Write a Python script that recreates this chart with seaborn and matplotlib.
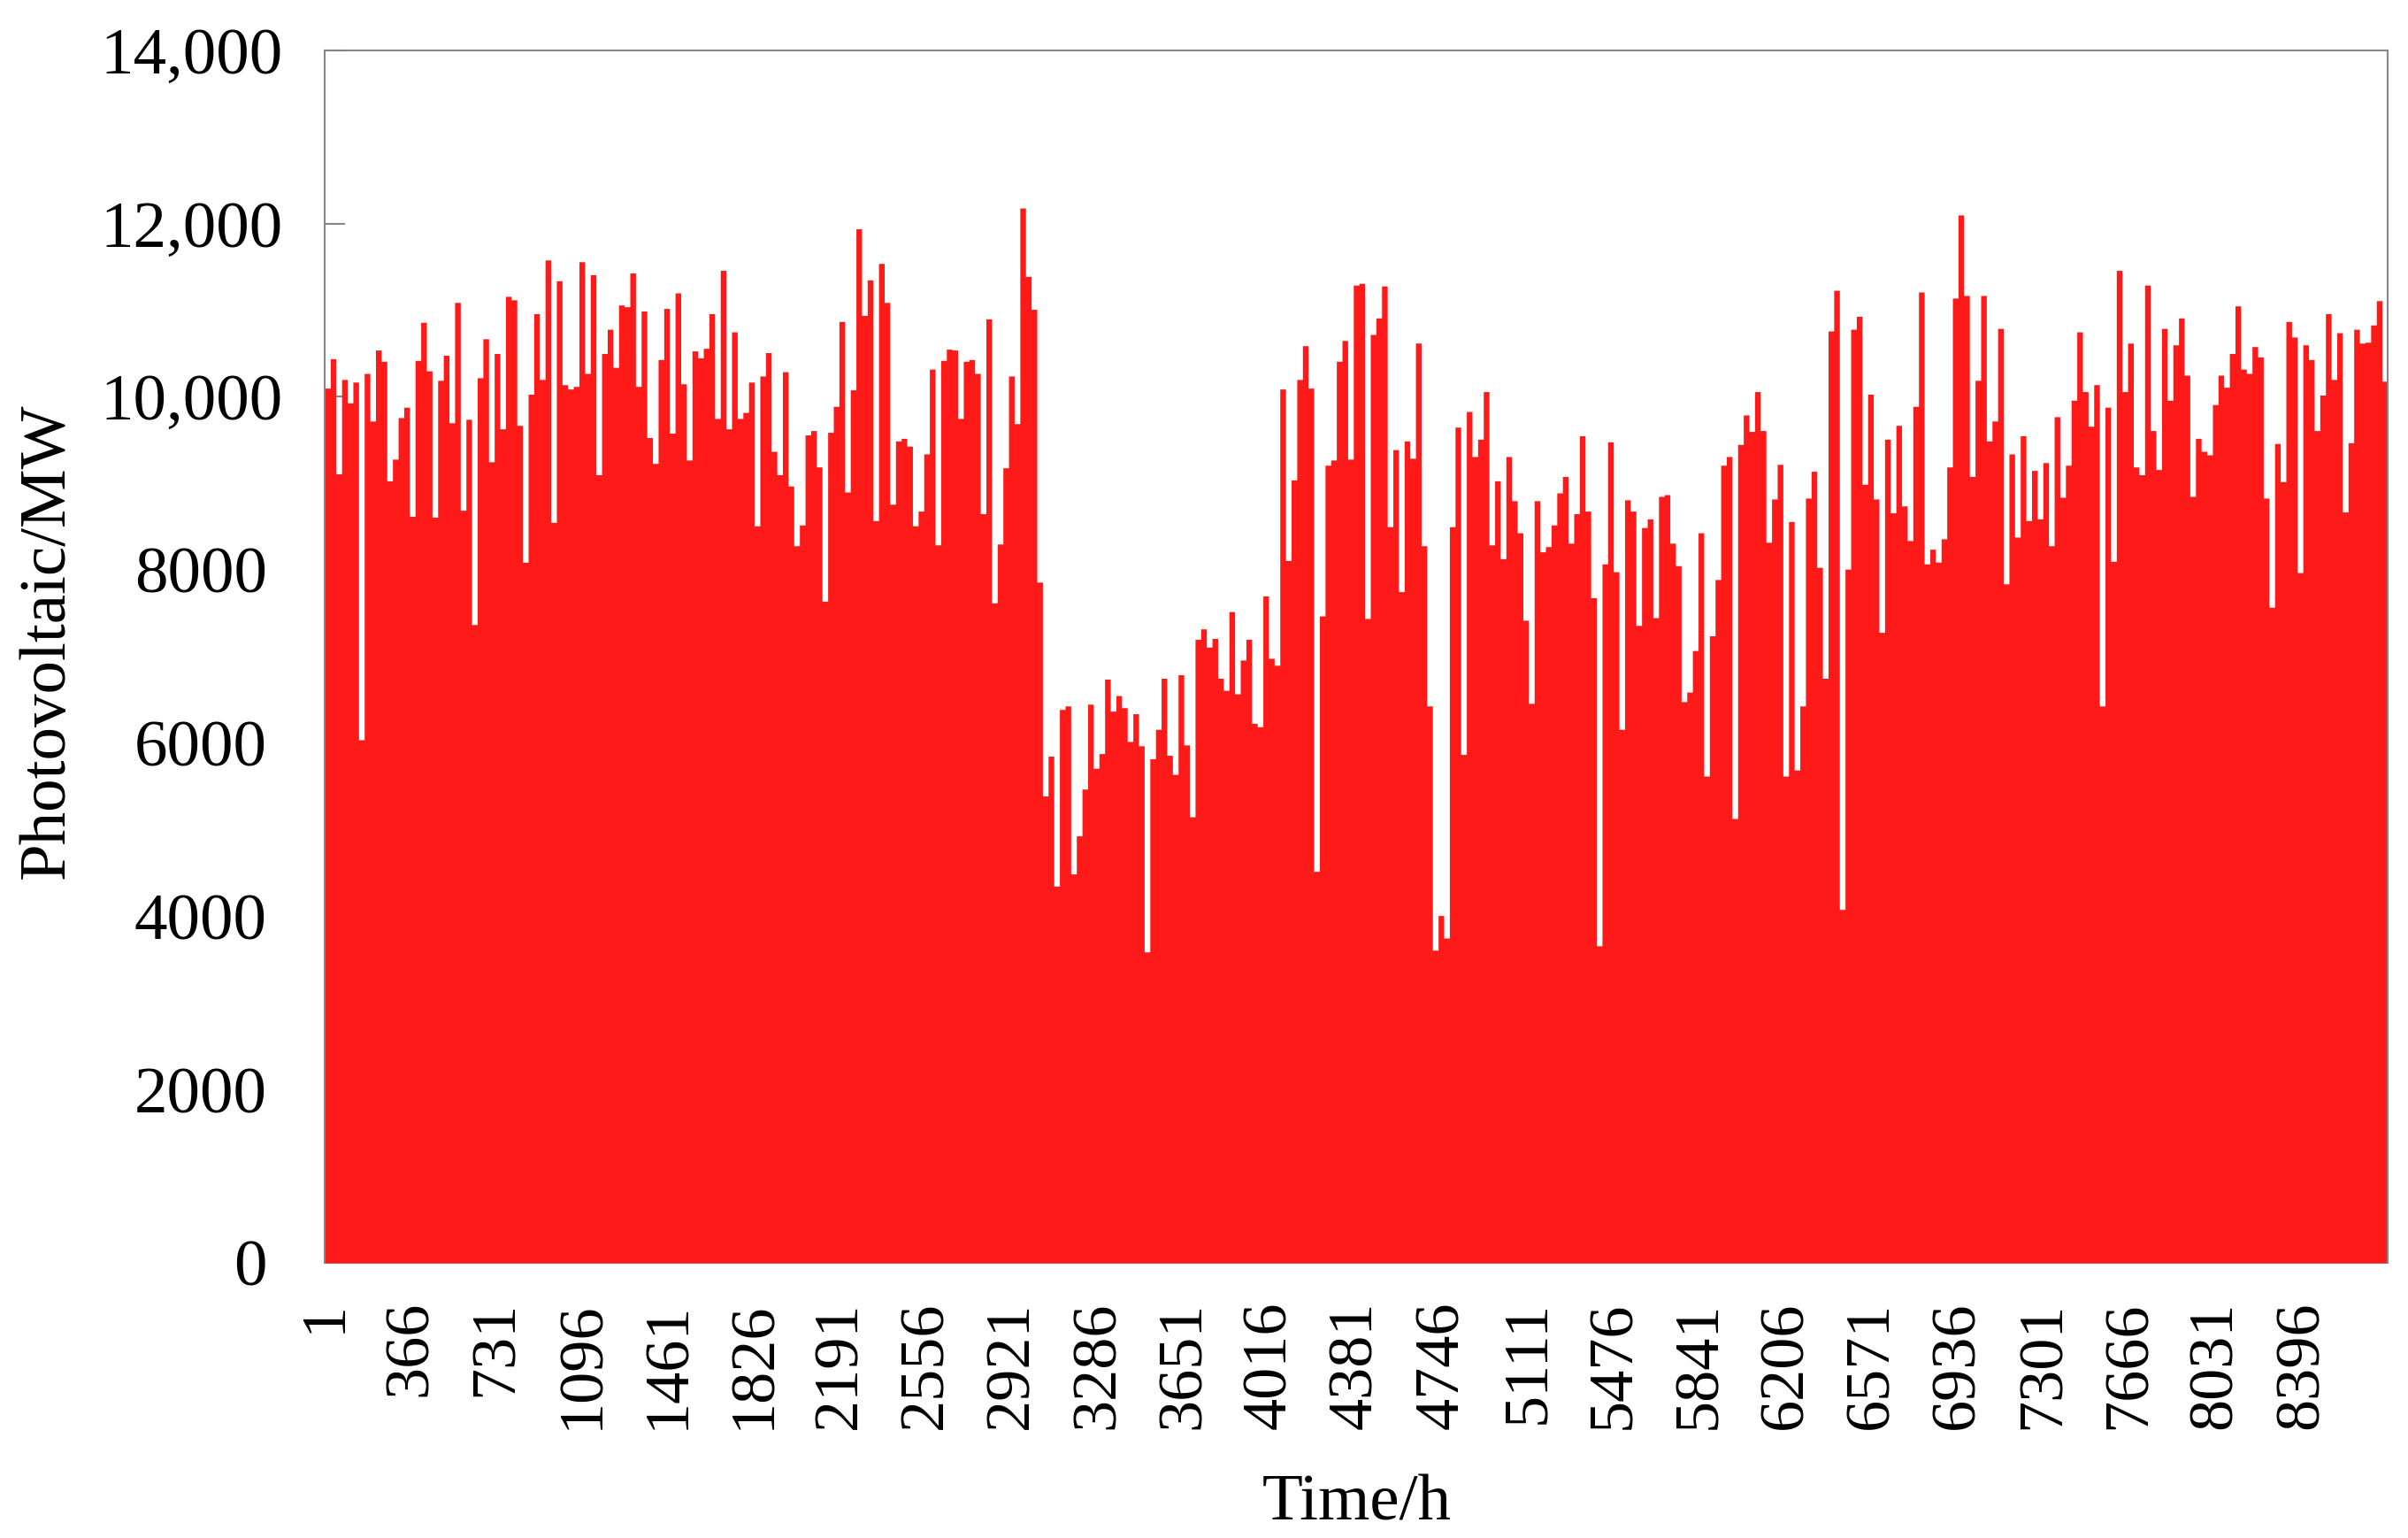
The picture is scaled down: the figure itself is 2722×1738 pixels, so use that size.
import numpy as np
import pandas as pd
import matplotlib
matplotlib.use("Agg")
import matplotlib.pyplot as plt
import seaborn as sns
from matplotlib.ticker import FixedLocator, FuncFormatter
from matplotlib.transforms import ScaledTranslation

# Daily peak photovoltaic output (MW), one value per day
block1 = [10100, 10440, 9110, 10200, 9930, 10170, 6040, 10270, 9720, 10540,
          10410, 9030, 9280, 9760, 9880, 8620, 10420, 10860, 10300, 8610,
          10190, 10480, 9700, 11090, 8690, 9740, 7370, 10220, 10670, 9250,
          10500, 9630, 11160, 11120, 9670, 8090, 10030, 10960, 10200, 11580,
          8550, 11340, 10140, 10090, 10120, 11560]
block2 = [10270, 11410, 9100, 10500, 10780, 10340, 11060, 11040, 11430, 10120,
          10990, 9530, 9230, 10430, 11020, 9580, 11200, 10150, 9270, 10530,
          10450, 10560, 10960, 9750, 11460, 9630, 10750, 9750, 9820, 10170,
          8510, 10240, 10510, 9370, 9100, 10290, 8970, 8280, 8520, 9560,
          9610, 9190, 7640, 9590, 9890]
block3 = [10870, 8900, 10080, 11940, 10940, 11350, 8570, 11540, 11090,
          8760, 9490, 9520, 9430, 8510, 8680, 9340, 10320, 8290, 10420,
          10550, 10540, 9750, 10410, 10430, 10270, 8650, 10900, 7620, 8300,
          9180, 10240, 9690, 12180, 11390, 11010, 7860, 5390, 5850, 4350,
          6390, 6430, 4490, 4930, 5470, 6450, 5710]
block4 = [5880, 6740, 6370,
          6550, 6410, 6020, 6340, 5970, 3590, 5820, 6160, 6750, 5860,
          5640, 6790, 5980, 5150, 7200, 7320, 7110, 7210, 6750, 6610,
          7520, 6570, 6960, 7200, 6230, 6190, 7700, 6980, 6900, 10090,
          8110, 9040, 10200, 10590, 10100, 4520, 7470, 9210, 9270, 10410,
          10650, 9280]
block5 = [11290, 11310, 7440, 10720, 10910, 11280, 8500, 9390,
          7750, 9490, 9290, 10620, 8280, 6430, 3610, 4010, 3750, 8500,
          9650, 5870, 9830, 9310, 9510, 10060, 8290, 9030, 8130, 9310,
          8800, 8430, 7420, 6460, 8800, 8210, 8270, 8520, 8890, 9080,
          8310, 8650, 9550, 8680, 7680, 3660, 8070]
block6 = [9480, 7980, 6160,
          8810, 8680, 7360, 8490, 8590, 7450, 8850, 8870, 8310, 8050,
          6480, 6590, 7070, 8430, 5620, 7240, 7890, 9210, 9310, 5130,
          9450, 9790, 9600, 10060, 9610, 8320, 8820, 9220, 5620, 8560,
          5690, 6430, 8830, 9140, 8030, 6750, 10760, 11230, 4080, 8010,
          10780, 10930]
block7 = [8990, 10030, 8820, 7280, 9510, 8660, 9670, 8740,
          8340, 9890, 11210, 8070, 8240, 8090, 8360, 9190, 11140, 12100,
          11170, 9080, 10190, 11170, 9490, 9720, 10790, 7840, 9340, 8380,
          9550, 8570, 9150, 8590, 9240, 8280, 9770, 8840, 9210, 9960,
          10750, 10060, 9660, 10140, 6430, 9880, 8100, 11460]
block8 = [10060, 10620,
          9190, 9100, 11290, 9610, 9160, 10790, 9960, 10600, 10910, 10250,
          8850, 9520, 9370, 9330, 9910, 10250, 10110, 10500, 11050, 10320,
          10270, 10580, 10460, 8830, 7570, 9460, 9020, 10870, 10690, 7970,
          10600, 10430, 9610, 10020, 10960, 10200, 10740, 8670, 9470, 10780,
          10620, 10630, 10830, 11110, 10180]

y_ticks = [0, 2000, 4000, 6000, 8000, 10000, 12000, 14000]
x_tick_hours = [1, 366, 731, 1096, 1461, 1826, 2191, 2556, 2921, 3286, 3651,
                4016, 4381, 4746, 5111, 5476, 5841, 6206, 6571, 6936, 7301,
                7666, 8031, 8396]

peaks = np.array(block1 + block2 + block3 + block4 + block5 + block6 + block7 + block8, dtype=float)
n_days = len(peaks)
df = pd.DataFrame({"hour": np.arange(n_days) * 24 + 13, "pv": peaks})
edges = [int(v) for v in np.arange(n_days + 1) * 24 + 1]

sns.set_theme(style="white")
plt.rcParams["font.family"] = ["Liberation Serif", "DejaVu Serif"]
plt.rcParams["text.color"] = "black"
plt.rcParams["axes.labelcolor"] = "black"
plt.rcParams["xtick.color"] = "black"
plt.rcParams["ytick.color"] = "black"

W, H = 2722, 1738
fig = plt.figure(figsize=(W / 100, H / 100), dpi=100)
left, right, top, bottom = 367, 2699, 57, 1427
ax = fig.add_axes([left / W, 1 - bottom / H, (right - left) / W, (bottom - top) / H])

sns.histplot(data=df, x="hour", weights="pv", bins=edges, element="step",
             fill=True, color="#FF1A1A", alpha=1, linewidth=0, ax=ax)

ax.set_xlim(edges[0], edges[-1])
ax.set_ylim(0, 14000)

gray = "#868686"
for s in ax.spines.values():
    s.set_color(gray)
    s.set_linewidth(1.5)
    s.set_visible(True)
ax.spines["bottom"].set_zorder(0.5)

fs = 54
ax.yaxis.set_major_locator(FixedLocator(y_ticks))
ax.yaxis.set_major_formatter(FuncFormatter(lambda v, p: f"{int(v):,}" if v >= 10000 else f"{int(v)}"))
ax.tick_params(axis="y", direction="in", length=16.5, width=1.5, color=gray,
               labelcolor="black", labelsize=fs, pad=34, left=True, right=False)
ax.xaxis.set_major_locator(FixedLocator(x_tick_hours))
ax.tick_params(axis="x", length=0, labelsize=52, labelcolor="black", pad=31,
               labelrotation=90, bottom=True)

ax.set_xlabel("Time/h", fontsize=fs, color="black")
ax.set_ylabel("Photovoltaic/MW", fontsize=fs, color="black")
ax.xaxis.label.set_va("baseline")
ax.yaxis.label.set_va("center")
ax.xaxis.set_label_coords((1534 - left) / (right - left), (bottom - 1717) / (bottom - top))
ax.yaxis.set_label_coords((54 - left) / (right - left), (bottom - 724) / (bottom - top))
ax.grid(False)

fig.canvas.draw()
for lab in ax.get_yticklabels():
    txt = lab.get_text()
    if "," not in txt:
        lab.set_transform(lab.get_transform() + ScaledTranslation(-18 / 100, 0, fig.dpi_scale_trans))

fig.savefig("out.png", dpi=100, facecolor="white")
